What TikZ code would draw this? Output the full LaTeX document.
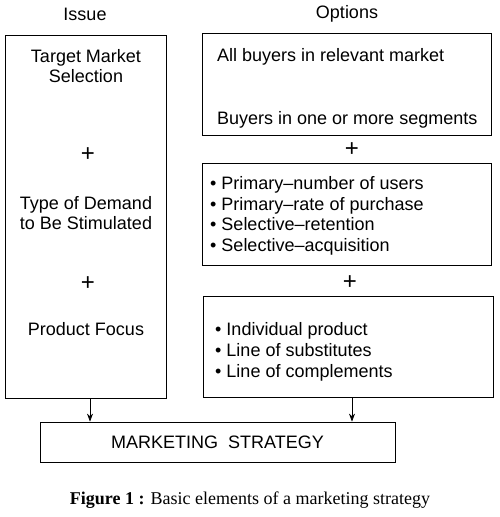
\documentclass[tikz,border=0pt]{standalone}
\usepackage{fontspec}
\setmainfont{Liberation Sans}
\newfontfamily\capfont{Liberation Serif}
\usetikzlibrary{arrows.meta}
\begin{document}
\begin{tikzpicture}[x=1pt,y=-1pt,
  box/.style={draw,line width=0.8pt},
  txt/.style={font=\fontsize{18}{20.5}\selectfont,inner sep=0pt},
  plus/.style={font=\fontsize{24}{24}\selectfont,inner sep=0pt},
  lbl/.style={font=\fontsize{18}{20}\selectfont,inner sep=0pt,anchor=base west},
  arr/.style={-{Stealth[length=8pt,width=6pt]},line width=0.7pt}]
\useasboundingbox (0,0) rectangle (499,517);
% headings
\node[txt] (issue) at (85,14) {Issue};
\node[txt] (options) at (347,14) {Options};
% left box
\draw[box] (5,35) rectangle (166,398);
\coordinate (lbot) at (90,398);
\node[txt,align=center] (t1) at (86,66) {Target Market\\Selection};
\node[plus] (p1) at (88,155) {+};
\node[txt,align=center] (t2) at (86,213) {Type of Demand\\to Be Stimulated};
\node[plus] (p2) at (88,284) {+};
\node[txt] (t3) at (86,329) {Product Focus};
% right boxes
\draw[box] (202,33) rectangle (491,135);
\node[lbl] (r1a) at (217,61) {All buyers in relevant market};
\node[lbl] (r1b) at (217,124) {Buyers in one or more segments};
\node[plus] (p3) at (352,150) {+};
\draw[box] (202,163) rectangle (491,265);
\node[lbl] (r2a) at (210,189) {• Primary–number of users};
\node[lbl] (r2b) at (210,210) {• Primary–rate of purchase};
\node[lbl] (r2c) at (210,230) {• Selective–retention};
\node[lbl] (r2d) at (210,251) {• Selective–acquisition};
\node[plus] (p4) at (350,283) {+};
\draw[box] (203,296) rectangle (493,397);
\coordinate (rbot) at (352,397);
\node[lbl] (r3a) at (215,335) {• Individual product};
\node[lbl] (r3b) at (215,356) {• Line of substitutes};
\node[lbl] (r3c) at (215,377) {• Line of complements};
% bottom
\node[draw,line width=0.8pt,minimum width=355pt,minimum height=40pt,inner sep=0pt,
  font=\fontsize{18}{20}\selectfont] (ms) at (217.5,442) {MARKETING\ \ STRATEGY};
\draw[arr] (lbot) -- (lbot |- ms.north);
\draw[arr] (rbot) -- (rbot |- ms.north);
% caption
\node[inner sep=0pt,font=\capfont\fontsize{18}{20}\selectfont] (cap) at (250,500) {\textbf{Figure 1 :} Basic elements of a marketing strategy};
\end{tikzpicture}
\end{document}
